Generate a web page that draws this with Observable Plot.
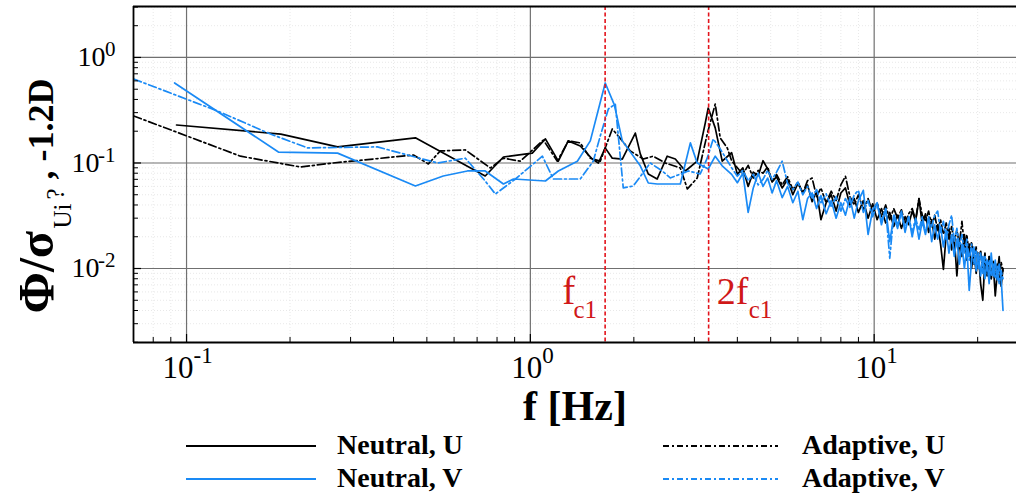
<!DOCTYPE html>
<html><head><meta charset="utf-8">
<script src="https://cdn.jsdelivr.net/npm/d3@7"></script>
<script src="https://cdn.jsdelivr.net/npm/@observablehq/plot@0.6"></script>
<style>
body{margin:0;background:#fff;}
#wrap{position:relative;width:1016px;height:498px;overflow:hidden;background:#fff;font-family:"Liberation Serif","Times New Roman",serif;}
#wrap svg.plot{position:absolute;left:0;top:0;}
.sw{position:absolute;}
.lab{position:absolute;font-weight:bold;font-size:28px;line-height:32px;white-space:nowrap;color:#000;}
</style></head><body><div id="wrap"></div>
<script>
// ---------- data ----------
const seriesNames = ["Neutral, U", "Neutral, V", "Adaptive, U", "Adaptive, V"];
const fc = [1.65, 3.3];
const fcLabelBase = ["f", "2f"];
const fcLabelSub = ["c1", "c1"];

const xTickValues = [0.1, 1, 10];
const xTickExps = ["-1", "0", "1"];
const yTickValues = [1, 0.1, 0.01];
const yTickExps = ["0", "-1", "-2"];
const xMinor = [0.08, 0.09, 0.2, 0.3, 0.4, 0.5, 0.6, 0.7, 0.8, 0.9, 2, 3, 4, 5, 6, 7, 8, 9, 20];
const yMinor = [0.002, 0.003, 0.004, 0.005, 0.006, 0.007, 0.008, 0.009,
                0.02, 0.03, 0.04, 0.05, 0.06, 0.07, 0.08, 0.09,
                0.2, 0.3, 0.4, 0.5, 0.6, 0.7, 0.8, 0.9, 2, 3];

// low / mid frequency part of each spectrum
const neutralU_f = [0.0935, 0.188, 0.275, 0.463, 0.739, 0.835, 1.013, 1.106, 1.206, 1.289, 1.397, 1.514, 1.577, 1.651, 1.731, 1.851, 2.020, 2.088, 2.203, 2.338, 2.501, 2.640, 2.824, 3.057, 3.226, 3.291, 3.449, 3.614];
const neutralU_v = [0.229, 0.188, 0.142, 0.173, 0.0753, 0.114, 0.124, 0.169, 0.104, 0.162, 0.145, 0.109, 0.100, 0.139, 0.111, 0.109, 0.192, 0.122, 0.0787, 0.0705, 0.116, 0.109, 0.084, 0.104, 0.239, 0.332, 0.215, 0.104];

const neutralV_f = [0.0923, 0.185, 0.275, 0.463, 0.558, 0.656, 0.739, 0.835, 0.893, 1.106, 1.206, 1.370, 1.494, 1.651, 1.755, 1.851, 2.088, 2.203, 2.338, 2.730, 2.920, 3.057, 3.291, 3.449, 3.614];
const neutralV_v = [0.573, 0.127, 0.124, 0.0605, 0.0753, 0.084, 0.084, 0.0632, 0.0705, 0.0675, 0.084, 0.104, 0.162, 0.573, 0.355, 0.162, 0.094, 0.0646, 0.0632, 0.0632, 0.155, 0.100, 0.0877, 0.116, 0.094];

const adaptiveU_f = [0.0702, 0.1435, 0.2145, 0.267, 0.457, 0.505, 0.547, 0.647, 0.765, 0.835, 0.935, 1.091, 1.198, 1.289, 1.397, 1.494, 1.597, 1.731, 1.802, 1.953, 2.130, 2.277, 2.467, 2.730, 2.862, 3.057, 3.269, 3.449, 3.566, 3.738];
const adaptiveU_v = [0.279, 0.116, 0.0916, 0.100, 0.119, 0.098, 0.130, 0.133, 0.0897, 0.111, 0.104, 0.165, 0.104, 0.162, 0.155, 0.111, 0.104, 0.210, 0.180, 0.130, 0.109, 0.116, 0.100, 0.0897, 0.0567, 0.0721, 0.188, 0.362, 0.173, 0.139];

const adaptiveV_f = [0.0702, 0.123, 0.1755, 0.225, 0.359, 0.537, 0.647, 0.739, 0.791, 0.905, 1.084, 1.166, 1.397, 1.524, 1.597, 1.686, 1.766, 1.863, 1.993, 2.232, 2.418, 2.552, 2.881, 3.119, 3.269, 3.404, 3.566];
const adaptiveV_v = [0.625, 0.311, 0.188, 0.139, 0.142, 0.100, 0.111, 0.0675, 0.0508, 0.0705, 0.116, 0.0705, 0.0705, 0.104, 0.180, 0.325, 0.362, 0.058, 0.0605, 0.100, 0.084, 0.0721, 0.084, 0.0787, 0.111, 0.169, 0.136];

// high frequency part (shared frequencies)
const highF = [3.85, 4.0, 4.15, 4.3, 4.45, 4.6, 4.75, 4.9, 5.05, 5.2, 5.4, 5.6, 5.8, 6.0, 6.2, 6.4, 6.6, 6.8, 7.0, 7.25,
  7.5, 7.75, 8.0, 8.25, 8.5, 8.75, 9.0, 9.3, 9.6, 9.9, 10.2, 10.5, 10.8, 11.1, 11.4, 11.7, 12.0, 12.3, 12.6, 12.9,
  13.2, 13.5, 13.8, 14.1, 14.4, 14.7, 15.0, 15.3, 15.6, 15.9, 16.2, 16.5, 16.8, 17.1, 17.4, 17.7, 18.0, 18.3, 18.6, 18.9,
  19.2, 19.5, 19.8, 20.1, 20.4, 20.7, 21.0, 21.3, 21.6, 21.9, 22.2, 22.5, 22.8, 23.1, 23.4, 23.7];
const neutralU_high = [0.125, 0.078, 0.090, 0.060, 0.082, 0.076, 0.105, 0.088, 0.066, 0.074, 0.058, 0.070, 0.050, 0.064, 0.052, 0.062, 0.043, 0.054, 0.029, 0.042,
  0.050, 0.035, 0.052, 0.058, 0.040, 0.046, 0.034, 0.044, 0.030, 0.041, 0.029, 0.037, 0.027, 0.034, 0.025, 0.032, 0.024, 0.031, 0.026, 0.035,
  0.028, 0.046, 0.026, 0.033, 0.022, 0.029, 0.019, 0.026, 0.017, 0.0098, 0.021, 0.024, 0.015, 0.020, 0.0085, 0.018, 0.013, 0.021, 0.012, 0.017,
  0.010, 0.015, 0.0090, 0.014, 0.0072, 0.0050, 0.012, 0.0090, 0.013, 0.0080, 0.011, 0.0055, 0.0090, 0.013, 0.0068, 0.0100];
const adaptiveU_high = [0.105, 0.090, 0.078, 0.095, 0.072, 0.085, 0.080, 0.092, 0.066, 0.078, 0.062, 0.074, 0.056, 0.066, 0.052, 0.068, 0.072, 0.048, 0.058, 0.042,
  0.054, 0.044, 0.062, 0.075, 0.048, 0.040, 0.050, 0.036, 0.046, 0.034, 0.042, 0.031, 0.040, 0.029, 0.037, 0.030, 0.036, 0.027, 0.033, 0.037,
  0.029, 0.046, 0.032, 0.028, 0.035, 0.025, 0.032, 0.023, 0.029, 0.021, 0.027, 0.019, 0.025, 0.018, 0.023, 0.017, 0.028, 0.016, 0.021, 0.013,
  0.018, 0.011, 0.016, 0.010, 0.015, 0.0095, 0.014, 0.0085, 0.013, 0.0080, 0.012, 0.0085, 0.011, 0.0075, 0.0115, 0.0095];
const neutralV_high = [0.078, 0.065, 0.080, 0.034, 0.058, 0.080, 0.060, 0.072, 0.052, 0.068, 0.047, 0.060, 0.042, 0.054, 0.029, 0.046, 0.052, 0.037, 0.049, 0.033,
  0.044, 0.030, 0.042, 0.032, 0.047, 0.030, 0.044, 0.055, 0.021, 0.036, 0.042, 0.026, 0.037, 0.018, 0.031, 0.024, 0.035, 0.022, 0.031, 0.020,
  0.029, 0.019, 0.028, 0.021, 0.031, 0.018, 0.026, 0.019, 0.025, 0.016, 0.023, 0.014, 0.021, 0.013, 0.019, 0.011, 0.017, 0.010, 0.016, 0.0062,
  0.012, 0.016, 0.0095, 0.014, 0.0085, 0.013, 0.0080, 0.012, 0.0072, 0.014, 0.0085, 0.012, 0.0078, 0.011, 0.0082, 0.0040];
const adaptiveV_high = [0.090, 0.075, 0.085, 0.068, 0.078, 0.062, 0.070, 0.085, 0.070, 0.082, 0.104, 0.064, 0.056, 0.066, 0.050, 0.060, 0.046, 0.056, 0.042, 0.051,
  0.038, 0.048, 0.035, 0.046, 0.038, 0.050, 0.055, 0.034, 0.044, 0.031, 0.041, 0.028, 0.037, 0.0125, 0.033, 0.026, 0.034, 0.024, 0.031, 0.022,
  0.030, 0.023, 0.031, 0.022, 0.029, 0.025, 0.032, 0.035, 0.022, 0.028, 0.019, 0.026, 0.032, 0.018, 0.024, 0.016, 0.021, 0.014, 0.019, 0.012,
  0.017, 0.011, 0.015, 0.010, 0.014, 0.0090, 0.013, 0.0095, 0.012, 0.0085, 0.011, 0.0080, 0.0105, 0.0072, 0.0095, 0.0080];

// ---------- layout / style ----------
const W = 1016, H = 425, mL = 133, mT = 6, mB = 83, mR = 0;
const innerW = W - mL - mR, innerH = H - mT - mB;
const xDomain = [0.0701, 25.94], yDomain = [0.00199, 3.04];
const serif = '"Liberation Serif","Times New Roman",serif';
const BLUE = "#1a8af5", RED = "#e3141c", DASHDOT = "8,3,2,3";
const styles = [
  {stroke: "#000", dash: null},
  {stroke: BLUE, dash: null},
  {stroke: "#000", dash: DASHDOT},
  {stroke: BLUE, dash: DASHDOT}
];

function rows(fl, vl, fh, vh) {
  const f = fl.concat(fh), v = vl.concat(vh);
  return f.map((d, i) => ({f: d, v: v[i]}));
}
const data = [
  rows(neutralU_f, neutralU_v, highF, neutralU_high),
  rows(neutralV_f, neutralV_v, highF, neutralV_high),
  rows(adaptiveU_f, adaptiveU_v, highF, adaptiveU_high),
  rows(adaptiveV_f, adaptiveV_v, highF, adaptiveV_high)
];
const drawOrder = [0, 2, 1, 3];
const lineMarks = drawOrder.map(k => Plot.line(data[k], {
  x: "f", y: "v", stroke: styles[k].stroke, strokeWidth: 1.7,
  strokeDasharray: styles[k].dash, strokeLinejoin: "round", clip: true
}));

const chart = Plot.plot({
  width: W, height: H, marginLeft: mL, marginTop: mT, marginBottom: mB, marginRight: mR,
  x: {type: "log", domain: xDomain, axis: null},
  y: {type: "log", domain: yDomain, axis: null},
  style: {fontFamily: serif, background: "white", color: "black", overflow: "visible"},
  marks: [
    // minor grid
    Plot.ruleX(xMinor, {stroke: "#e2e2e2", strokeWidth: 0.8, strokeDasharray: "1,2"}),
    Plot.ruleY(yMinor, {stroke: "#e2e2e2", strokeWidth: 0.8, strokeDasharray: "1,2"}),
    // major grid
    Plot.ruleX(xTickValues, {stroke: "#707070", strokeWidth: 1.2}),
    Plot.ruleY(yTickValues, {stroke: "#707070", strokeWidth: 1.2}),
    // data
    ...lineMarks,
    // characteristic frequencies
    Plot.ruleX(fc, {stroke: RED, strokeWidth: 1.6, strokeDasharray: "4,2.5"}),
    // frame (left, top, bottom)
    Plot.ruleX([xDomain[0]], {stroke: "#000", strokeWidth: 1.8}),
    Plot.ruleY([yDomain[0]], {stroke: "#000", strokeWidth: 1.8}),
    Plot.ruleY([yDomain[1]], {stroke: "#000", strokeWidth: 1.8}),
    // inward ticks
    Plot.ruleY(yMinor, {stroke: "#000", strokeWidth: 1, insetRight: innerW - 5}),
    Plot.ruleY(yTickValues, {stroke: "#000", strokeWidth: 1.2, insetRight: innerW - 8}),
    Plot.ruleX(xMinor, {stroke: "#000", strokeWidth: 1, insetTop: innerH - 5}),
    Plot.ruleX(xTickValues, {stroke: "#000", strokeWidth: 1.2, insetTop: innerH - 8}),
    // y tick labels
    Plot.text(yTickValues, {filter: (d, i) => yTickExps[i].length === 1, y: d => d, text: () => "10",
      frameAnchor: "left", textAnchor: "end", lineAnchor: "middle", dx: -28, fontSize: 28}),
    Plot.text(yTickValues, {filter: (d, i) => yTickExps[i].length > 1, y: d => d, text: () => "10",
      frameAnchor: "left", textAnchor: "end", lineAnchor: "middle", dx: -34, fontSize: 28}),
    Plot.text(yTickValues, {y: d => d, text: (d, i) => yTickExps[i],
      frameAnchor: "left", textAnchor: "end", lineAnchor: "middle", dx: -18, dy: -8, fontSize: 21}),
    // x tick labels
    Plot.text(xTickValues, {filter: (d, i) => xTickExps[i].length === 1, x: d => d, text: () => "10",
      frameAnchor: "bottom", textAnchor: "end", lineAnchor: "bottom", dx: 12, dy: 35, fontSize: 31}),
    Plot.text(xTickValues, {filter: (d, i) => xTickExps[i].length > 1, x: d => d, text: () => "10",
      frameAnchor: "bottom", textAnchor: "end", lineAnchor: "bottom", dx: 7, dy: 35, fontSize: 31}),
    Plot.text(xTickValues, {filter: (d, i) => xTickExps[i].length === 1, x: d => d, text: (d, i) => xTickExps[i],
      frameAnchor: "bottom", textAnchor: "start", lineAnchor: "bottom", dx: 12, dy: 20, fontSize: 23}),
    Plot.text(xTickValues, {filter: (d, i) => xTickExps[i].length > 1, x: d => d, text: (d, i) => xTickExps[i],
      frameAnchor: "bottom", textAnchor: "start", lineAnchor: "bottom", dx: 7, dy: 20, fontSize: 23}),
    // x title
    Plot.text(["f [Hz]"], {text: d => d, frameAnchor: "bottom", textAnchor: "middle", lineAnchor: "bottom",
      dy: 77, fontSize: 42, fontWeight: "bold"}),
    // y title (rotated pieces)
    Plot.text(["Φ/σ"], {text: d => d, frameAnchor: "left", textAnchor: "start", lineAnchor: "bottom",
      rotate: -90, dx: -81, dy: 139, fontSize: 50, fontWeight: "bold"}),
    Plot.text(["Ui"], {text: d => d, frameAnchor: "left", textAnchor: "start", lineAnchor: "bottom",
      rotate: -90, dx: -63, dy: 54, fontSize: 25}),
    Plot.text(["?"], {text: d => d, frameAnchor: "left", textAnchor: "start", lineAnchor: "bottom",
      rotate: -90, dx: -70, dy: 25, fontSize: 25}),
    Plot.text([", -1.2D"], {text: d => d, frameAnchor: "left", textAnchor: "start", lineAnchor: "bottom",
      rotate: -90, dx: -81, dy: 5, fontSize: 36, fontWeight: "bold"}),
    // fc labels
    Plot.text([fc[0]], {x: d => d, text: () => fcLabelBase[0], frameAnchor: "bottom", textAnchor: "end",
      lineAnchor: "bottom", dx: -30, dy: -39, fontSize: 39, fill: "#d01818"}),
    Plot.text([fc[0]], {x: d => d, text: () => fcLabelSub[0], frameAnchor: "bottom", textAnchor: "end",
      lineAnchor: "bottom", dx: -8, dy: -25, fontSize: 25, fill: "#d01818"}),
    Plot.text([fc[1]], {x: d => d, text: () => fcLabelBase[1], frameAnchor: "bottom", textAnchor: "start",
      lineAnchor: "bottom", dx: 8, dy: -39, fontSize: 38, fill: "#d01818"}),
    Plot.text([fc[1]], {x: d => d, text: () => fcLabelSub[1], frameAnchor: "bottom", textAnchor: "start",
      lineAnchor: "bottom", dx: 40, dy: -25, fontSize: 25, fill: "#d01818"})
  ]
});
chart.classList.add("plot");
const wrap = document.getElementById("wrap");
wrap.appendChild(chart);

// ---------- legend (below the plot) ----------
const legendPos = [
  {x1: 186, x2: 316, tx: 337, y: 446},
  {x1: 186, x2: 316, tx: 337, y: 479},
  {x1: 663, x2: 778, tx: 802, y: 446},
  {x1: 663, x2: 778, tx: 802, y: 479}
];
seriesNames.forEach((name, k) => {
  const p = legendPos[k];
  const ns = "http://www.w3.org/2000/svg";
  const s = document.createElementNS(ns, "svg");
  s.setAttribute("class", "sw");
  s.setAttribute("width", p.x2 - p.x1);
  s.setAttribute("height", 10);
  s.style.left = p.x1 + "px";
  s.style.top = (p.y - 5) + "px";
  const l = document.createElementNS(ns, "line");
  l.setAttribute("x1", 0); l.setAttribute("x2", p.x2 - p.x1);
  l.setAttribute("y1", 5); l.setAttribute("y2", 5);
  l.setAttribute("stroke", styles[k].stroke);
  l.setAttribute("stroke-width", 2.2);
  if (styles[k].dash) l.setAttribute("stroke-dasharray", "6,3,2,3");
  s.appendChild(l);
  wrap.appendChild(s);
  const t = document.createElement("div");
  t.className = "lab";
  t.textContent = name;
  t.style.left = p.tx + "px";
  t.style.top = (p.y - 17) + "px";
  wrap.appendChild(t);
});
</script></body></html>
